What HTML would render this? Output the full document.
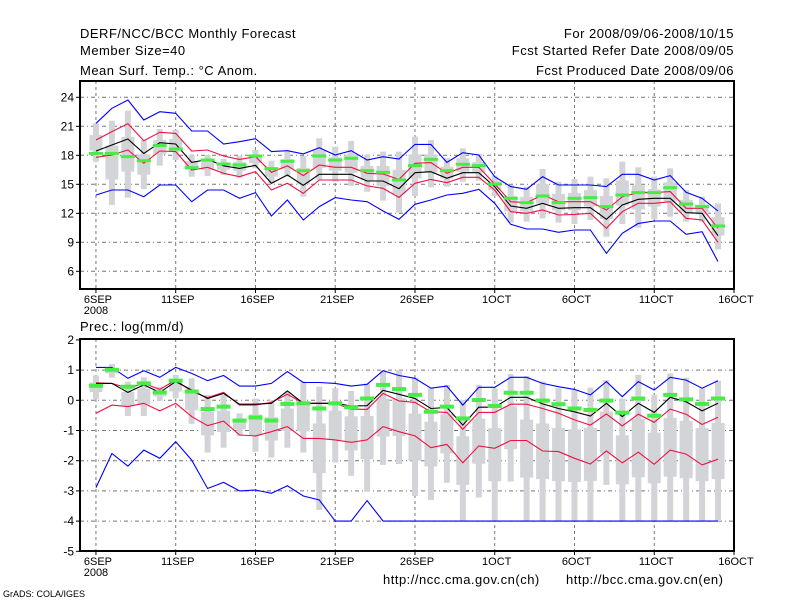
<!DOCTYPE html>
<html><head><meta charset="utf-8"><style>
body{margin:0;background:#fff;width:800px;height:600px;overflow:hidden}
svg text{font-family:"Liberation Sans",sans-serif;fill:#000}
</style></head><body>
<svg id="chart" width="800" height="600" xmlns="http://www.w3.org/2000/svg">
<g font-size="13" letter-spacing="0.5">
<text x="80" y="38">DERF/NCC/BCC Monthly Forecast</text>
<text x="80" y="55">Member Size=40</text>
<text x="80" y="75">Mean Surf. Temp.: °C Anom.</text>
<text x="734" y="38" text-anchor="end">For 2008/09/06-2008/10/15</text>
<text x="734" y="55" text-anchor="end">Fcst Started Refer Date 2008/09/05</text>
<text x="734" y="75" text-anchor="end">Fcst Produced Date 2008/09/06</text>
<text x="80" y="331">Prec.: log(mm/d)</text>
<text x="383" y="584">http://ncc.cma.gov.cn(ch)</text>
<text x="566" y="584">http://bcc.cma.gov.cn(en)</text>
<text x="3" y="597" font-size="9" letter-spacing="0">GrADS: COLA/IGES</text>
</g>
</svg>
<script>
// ---- shared x axis ----
const xTickLabels = ["6SEP","11SEP","16SEP","21SEP","26SEP","1OCT","6OCT","11OCT","16OCT"];
const xTickDays = [0,5,10,15,20,25,30,35,40];
// ---- temperature panel ----
const tTicks = [6,9,12,15,18,21,24];
const tBlueHi = [21.31,22.86,23.72,21.65,22.51,22.34,20.51,20.51,19.17,19.41,19.72,18.38,18.48,18.14,18.79,18.03,18.48,17.51,17.86,17.62,19.13,19.13,17.27,18.27,18.03,15.79,14.76,14.48,15.79,14.93,14.93,14.93,14.76,16.03,16.03,15.45,15.9,14.17,13.55,12.24];
const tBlueLo = [13.89,14.41,14.41,13.72,14.93,14.93,13.2,14.41,14.41,13.55,14.14,11.72,13.38,11.31,12.69,13.62,13.38,13.2,12.24,11.38,12.93,13.38,13.89,14.07,14.48,13.03,10.86,10.38,10.38,10.03,10.27,10.27,7.86,9.93,10.96,11.2,11.2,9.83,10.1,7.0];
const tRedHi = [19.58,20.45,21.27,19.51,20.38,20.27,18.45,18.55,17.93,17.58,17.86,16.24,16.9,15.9,17.0,16.76,16.76,16.14,16.07,15.51,17.17,17.24,16.14,16.76,16.76,15.03,13.2,13.1,13.9,13.2,13.2,13.2,12.34,13.72,14.14,14.14,14.24,12.52,12.52,10.45];
const tRedLo = [17.79,18.03,18.55,17.17,18.45,18.38,16.48,16.76,16.14,15.79,16.31,14.41,15.1,14.07,15.45,15.45,15.45,14.83,14.58,13.65,15.1,15.51,15.17,15.72,15.72,14.41,12.17,12.0,12.34,11.82,11.89,12.0,10.45,12.17,13.03,13.03,13.2,11.48,11.31,9.0];
const tMean = [18.44,19.07,19.69,18.2,19.3,19.17,17.27,17.58,16.9,16.65,16.96,15.1,15.96,14.9,16.03,16.03,16.03,15.34,15.34,14.55,16.2,16.3,15.62,16.2,16.2,14.75,12.76,12.52,13.03,12.52,12.58,12.58,11.38,12.86,13.45,13.55,13.55,12.06,12.0,9.68];
const tGreen = [18.2,18.2,17.86,17.44,19.0,18.65,16.72,17.51,17.1,17.0,17.93,16.62,17.38,16.41,17.93,17.51,17.69,16.41,16.24,15.45,16.93,17.58,16.41,17.07,16.93,15.03,13.55,13.1,13.79,13.1,13.55,13.62,12.69,13.89,14.14,14.14,14.65,12.96,12.69,10.69];
const tBoxTop = [21.31,21.58,22.62,19.58,20.72,20.62,18.03,18.03,17.62,17.93,18.55,17.44,18.38,17.93,19.76,18.89,19.48,18.03,18.38,18.38,19.93,19.58,17.69,18.72,18.14,15.9,14.93,14.76,16.58,15.27,15.55,15.79,15.62,17.34,16.76,15.79,16.65,14.41,13.72,13.03];
const tBoxBot = [17.34,12.86,13.62,14.51,16.93,17.51,15.79,15.86,15.96,15.69,16.65,15.1,15.79,13.72,15.45,15.27,14.83,14.24,13.31,12.07,13.79,14.69,14.76,15.27,15.38,13.79,11.03,11.13,11.48,11.03,10.89,11.31,9.58,10.89,10.51,11.38,11.65,11.13,11.13,8.27];
const tInTop = [20.1,19.0,19.9,18.1,19.6,19.7,17.4,17.4,17.1,17.3,18.0,16.7,17.6,16.7,18.5,17.8,18.1,16.9,16.9,16.5,18.1,18.1,16.8,17.7,17.3,15.3,13.8,13.7,15.0,14.0,14.1,14.4,13.8,15.4,14.9,14.5,15.2,13.4,12.9,11.6];
const tInBot = [18.5,15.5,16.3,16.0,18.1,18.4,16.5,16.5,16.5,16.4,17.2,15.8,16.6,15.0,16.7,16.4,16.2,15.4,14.8,14.0,15.6,16.2,15.6,16.3,16.2,14.4,12.2,12.2,13.0,12.3,12.3,12.7,11.4,12.8,12.4,12.7,13.2,12.1,11.9,9.7];
// ---- precipitation panel ----
const pTicks = [-5,-4,-3,-2,-1,0,1,2];
const pBlueHi = [1.09,1.09,0.73,0.98,0.76,1.09,0.89,0.65,0.82,0.47,0.47,0.56,0.95,0.59,0.59,0.56,0.47,0.53,0.98,0.82,0.73,0.4,0.47,-0.16,0.43,0.43,0.76,0.76,0.56,0.45,0.36,0.18,0.62,0.12,0.62,0.34,0.76,0.67,0.4,0.65];
const pBlueLo = [-2.89,-1.76,-2.18,-1.65,-1.92,-1.37,-1.98,-2.92,-2.72,-3.0,-2.97,-3.08,-2.83,-3.17,-3.3,-4,-4,-3.32,-4,-4,-4,-4,-4,-4,-4,-4,-4,-4,-4,-4,-4,-4,-4,-4,-4,-4,-4,-4,-4,-4];
const pRedHi = [0.58,0.56,0.4,0.56,0.36,0.67,0.29,0.09,0.26,-0.16,-0.16,-0.07,0.2,-0.1,-0.1,-0.1,-0.29,-0.3,0.23,-0.02,-0.07,-0.38,-0.4,-0.96,-0.4,-0.4,-0.13,-0.13,-0.27,-0.43,-0.65,-0.82,-0.45,-0.85,-0.46,-0.73,-0.29,-0.46,-0.8,-0.56];
const pRedLo = [-0.43,-0.16,-0.21,-0.1,-0.35,-0.1,-0.54,-0.84,-0.69,-1.15,-1.18,-1.04,-0.87,-1.26,-1.26,-1.31,-1.39,-1.31,-0.87,-1.04,-1.18,-1.57,-1.46,-2.07,-1.51,-1.59,-1.33,-1.33,-1.68,-1.7,-1.92,-2.11,-1.68,-2.07,-1.72,-2.12,-1.65,-1.78,-2.14,-1.95];
const pMean = [0.56,0.56,0.26,0.51,0.26,0.62,0.34,0.06,0.23,-0.13,-0.13,-0.1,0.31,-0.1,-0.1,-0.1,-0.19,-0.18,0.33,0.2,0.06,-0.27,-0.24,-0.82,-0.23,-0.23,0.1,0.1,-0.12,-0.27,-0.38,-0.52,-0.1,-0.54,-0.1,-0.4,0.1,-0.05,-0.35,-0.1];
const pGreen = [0.48,1.01,0.45,0.56,0.26,0.65,0.29,-0.29,-0.21,-0.67,-0.57,-0.67,-0.12,-0.1,-0.27,-0.1,-0.23,0.06,0.51,0.37,0.18,-0.38,-0.21,-0.6,0.01,-0.19,0.25,0.25,-0.01,-0.13,-0.27,-0.32,-0.01,-0.41,0.06,-0.51,0.18,0.03,-0.12,0.06];
const pBoxTop = [0.82,1.2,0.62,0.76,0.45,0.84,0.73,0.18,0.18,-0.43,0.06,0.01,0.29,0.62,0.45,0.4,0.31,0.56,1.0,1.0,0.73,0.4,0.51,0.01,0.51,0.4,0.87,0.8,0.62,0.4,0.34,0.42,0.67,0.06,0.84,0.18,0.89,0.75,0.4,0.65];
const pBoxBot = [0.04,0.75,-0.52,-0.52,-0.01,0.06,-0.78,-1.73,-1.57,-1.18,-1.7,-1.9,-1.57,-1.73,-3.63,-2.06,-2.5,-3.03,-2.14,-2.11,-3.17,-3.3,-2.73,-4,-3.22,-4,-2.69,-4,-4,-4,-4,-4,-2.8,-4,-4,-4,-4,-4,-4,-4];
const pInTop = [0.59,1.07,0.28,0.38,0.31,0.61,0.28,-0.39,-0.35,-0.66,-0.47,-0.56,-0.27,-0.09,-0.77,-0.34,-0.53,-0.52,0.06,0.07,-0.44,-0.71,-0.46,-1.19,-0.61,-0.92,-0.2,-0.64,-0.77,-0.92,-0.96,-0.91,-0.37,-1.16,-0.61,-1.07,-0.58,-0.68,-0.92,-0.75];
const pInBot = [0.27,0.89,-0.18,-0.14,0.13,0.29,-0.33,-1.16,-1.05,-0.96,-1.17,-1.33,-1.01,-1.03,-2.41,-1.32,-1.66,-1.95,-1.2,-1.18,-2.0,-2.19,-1.76,-2.8,-2.1,-2.68,-1.62,-2.56,-2.61,-2.68,-2.7,-2.67,-1.76,-2.78,-2.55,-2.75,-2.53,-2.58,-2.68,-2.61];

const NS = "http://www.w3.org/2000/svg";
const svg = document.getElementById("chart");
function mk(tag, attrs, parent){
  const e = document.createElementNS(NS, tag);
  for (const k in attrs) e.setAttribute(k, attrs[k]);
  (parent||svg).appendChild(e);
  return e;
}
const X0 = 80, X1 = 734;
function xDay(d){ return X0 + (d + 1) * (X1 - X0) / 41; }

function panel(cfg){
  const g = mk("g", {});
  
  
  const y = cfg.y;
  cfg.ticks.forEach(function(t){
    const yy = y(t);
    if (yy > cfg.top + 1 && yy < cfg.bot - 1) {
      const l = mk("line", {x1:X0, x2:X1, y1:yy, y2:yy, stroke:"#777", "stroke-width":1, "stroke-dasharray":"4,3,1,3"}, g);
      
      
    }
    const tk = mk("line", {x1:X0-4, x2:X0, y1:yy, y2:yy, stroke:"#000"}, g);
    
    
    const tx = mk("text", {x:X0-6, y:yy+4, "text-anchor":"end", "font-size":12}, g);
    
    
    tx.textContent = t;
  });
  xTickDays.forEach(function(d, i){
    const xx = xDay(d);
    if (xx < X1 - 1) {
      const l = mk("line", {x1:xx, x2:xx, y1:cfg.top, y2:cfg.bot, stroke:"#777", "stroke-width":1, "stroke-dasharray":"3,3"}, g);
      
      
    }
    const tk = mk("line", {x1:xx, x2:xx, y1:cfg.bot, y2:cfg.bot+4, stroke:"#000"}, g);
    
    
    const tx = mk("text", {x:xx+2, y:cfg.bot+14, "text-anchor":"middle", "font-size":11}, g);
    
    
    tx.textContent = xTickLabels[i];
  });
  const yr = mk("text", {x:xDay(0), y:cfg.bot+25, "text-anchor":"middle", "font-size":11}, g);
  
  
  yr.textContent = "2008";
  cfg.boxTop.forEach(function(v, i){
    const xx = xDay(i);
    const r1 = mk("rect", {x:xx-3, y:y(v), width:6, height:Math.max(0, y(cfg.boxBot[i]) - y(v)), fill:"#d3d4d8"}, g);
    
    
    const r2 = mk("rect", {x:xx-6.5, y:y(cfg.inTop[i]), width:13, height:Math.max(0, y(cfg.inBot[i]) - y(cfg.inTop[i])), fill:"#d3d4d8"}, g);
    
    
  });
  function line(arr, color, name){
    const pts = arr.map(function(v, i){ return xDay(i).toFixed(1) + "," + y(v).toFixed(1); }).join(" ");
    const p = mk("polyline", {points:pts, fill:"none", stroke:color, "stroke-width":1.1}, g);
    
    
  }
  line(cfg.blueHi, "#0000ff", "max-line");
  line(cfg.blueLo, "#0000ff", "min-line");
  line(cfg.redHi, "#ee1144", "upper-spread-line");
  line(cfg.redLo, "#ee1144", "lower-spread-line");
  line(cfg.mean, "#000", "ensemble-mean-line");
  cfg.green.forEach(function(v, i){
    const m = mk("rect", {x:xDay(i)-7, y:y(v)-cfg.gh/2, width:14, height:cfg.gh, fill:"#44ee44"}, g);
    
    
  });
  const f = mk("rect", {x:X0, y:cfg.top, width:X1-X0, height:cfg.bot-cfg.top, fill:"none", stroke:"#000", "stroke-width":2}, g);
  
  
}

panel({name:"temperature-panel", top:81, bot:289, ticks:tTicks,
  y:function(v){ return 97.3 + (24 - v) * 9.667; },
  blueHi:tBlueHi, blueLo:tBlueLo, redHi:tRedHi, redLo:tRedLo, mean:tMean, green:tGreen,
  boxTop:tBoxTop, boxBot:tBoxBot, inTop:tInTop, inBot:tInBot, gh:3});
panel({name:"precipitation-panel", top:339, bot:551, ticks:pTicks,
  y:function(v){ return 400.3 - v * 30.2; },
  blueHi:pBlueHi, blueLo:pBlueLo, redHi:pRedHi, redLo:pRedLo, mean:pMean, green:pGreen,
  boxTop:pBoxTop, boxBot:pBoxBot, inTop:pInTop, inBot:pInBot, gh:4});
</script>
</body></html>
